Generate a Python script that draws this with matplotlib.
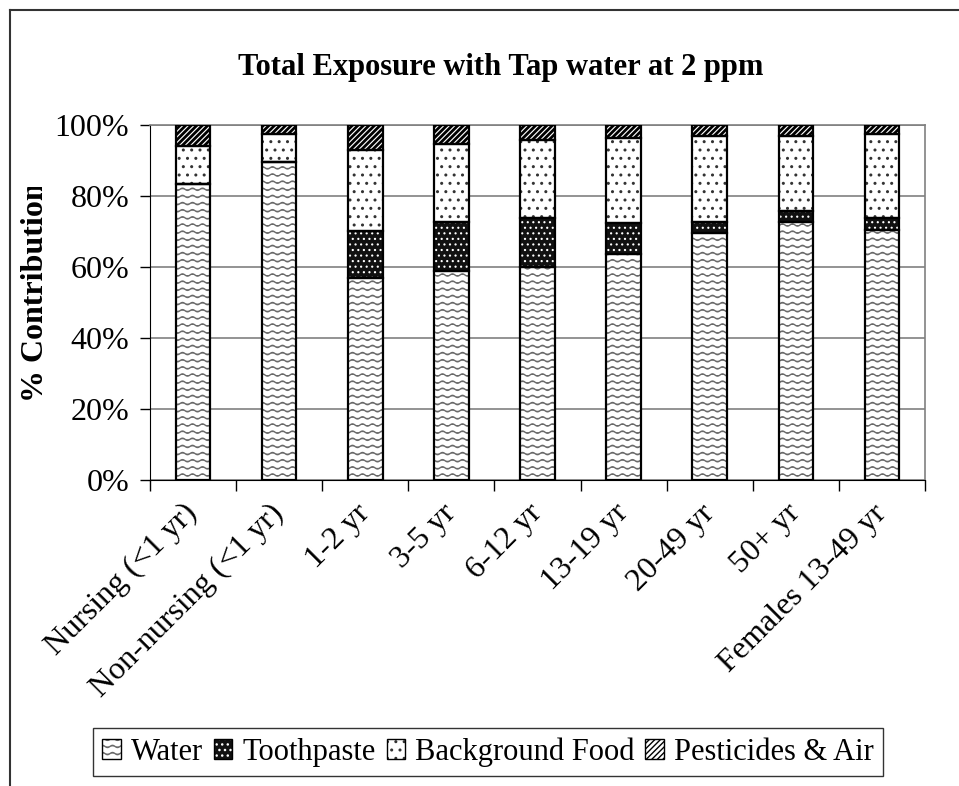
import warnings
import numpy as np
import matplotlib
matplotlib.use("Agg")
import matplotlib.pyplot as plt
import matplotlib.hatch as mhatch
from matplotlib.patches import Patch
from matplotlib.lines import Line2D
from matplotlib.path import Path
from matplotlib.transforms import Bbox

warnings.filterwarnings("ignore")


# волнистая штриховка ('~'), как узор "волна" в Excel
class WaveHatch(mhatch.HatchPatternBase):
    def __init__(self, hatch, density):
        self.num_rows = int(hatch.count('~') * density * 0.8)
        self.num_pts = 201
        self.num_vertices = self.num_rows * self.num_pts

    def set_vertices_and_codes(self, vertices, codes):
        xs = np.linspace(0.0, 1.0, self.num_pts)
        for i in range(self.num_rows):
            y0 = (i + 0.5) / self.num_rows
            sl = slice(i * self.num_pts, (i + 1) * self.num_pts)
            vertices[sl, 0] = xs
            vertices[sl, 1] = y0 + 0.011 * np.sin(xs * 2 * np.pi * 10)
            codes[sl] = Path.LINETO
            codes[i * self.num_pts] = Path.MOVETO


mhatch._hatch_types.append(WaveHatch)

plt.rcParams['font.family'] = ['Liberation Serif', 'DejaVu Serif']
plt.rcParams['hatch.linewidth'] = 1.0

# Данные (в процентах)
groups = ["Nursing (<1 yr)", "Non-nursing (<1 yr)", "1-2 yr", "3-5 yr", "6-12 yr",
          "13-19 yr", "20-49 yr", "50+ yr", "Females 13-49 yr"]
water = [83.5, 89.7, 56.8, 59.0, 60.1, 63.7, 69.7, 72.6, 70.4]
toothpaste = [0.0, 0.0, 13.3, 13.8, 13.8, 8.6, 3.1, 3.2, 3.5]
background = [10.6, 7.8, 22.9, 21.8, 21.9, 23.9, 24.1, 21.2, 23.5]
pesticides = [5.9, 2.5, 7.0, 5.4, 4.2, 3.8, 3.1, 3.0, 2.6]

# имя, данные, заливка, цвет штриховки, штриховка, толщина штриховки
series = [("Water", water, "white", "#6a6a6a", "~~~", 1.0),
          ("Toothpaste", toothpaste, "#111111", "white", "...", 0.8),
          ("Background Food", background, "white", "#333333", "..", 1.0),
          ("Pesticides & Air", pesticides, "white", "black", "//////", 2.0)]

fig = plt.figure(figsize=(9.59, 7.86), dpi=100)
ax = fig.add_axes([150 / 959, 1 - 480 / 786, 775 / 959, 355 / 786])

x = np.arange(len(groups))
bottom = np.zeros(len(groups))
handles = []
for name, vals, face, hcol, hatch, hlw in series:
    vals = np.array(vals)
    with plt.rc_context({'hatch.linewidth': hlw}):
        bars = ax.bar(x, vals, 0.4, bottom=bottom, color=face, edgecolor=hcol,
                      hatch=hatch, linewidth=0, zorder=2)
        h = Patch(facecolor=face, edgecolor=hcol, hatch=hatch, linewidth=0)
    for p in list(bars) + [h]:
        if hasattr(p, "set_hatch_linewidth"):
            p.set_hatch_linewidth(hlw)
    ax.bar(x, vals, 0.4, bottom=bottom, fill=False, edgecolor="black",
           linewidth=1.6, zorder=3)
    handles.append((h, Patch(fill=False, edgecolor="black", linewidth=1.0)))
    bottom += vals

ax.set_xlim(-0.5, len(groups) - 0.5)
ax.set_ylim(0, 100)
ax.set_yticks([0, 20, 40, 60, 80, 100])
ax.set_yticklabels(["0%", "20%", "40%", "60%", "80%", "100%"], fontsize=23)
ax.set_xticks(x)
ax.set_xticklabels(groups, fontsize=23, rotation=45, ha="right", va="center",
                   rotation_mode="anchor")
ax.set_xticks(np.arange(len(groups) + 1) - 0.5, minor=True)
ax.tick_params(axis="x", which="major", length=0, pad=21)
ax.tick_params(axis="x", which="minor", length=8, width=1, direction="out")
ax.tick_params(axis="y", length=7, width=1, direction="out", pad=8)

ax.grid(axis="y", color="#808080", linewidth=1.2, zorder=0)
ax.set_axisbelow(True)
ax.spines["top"].set_color("#808080")
ax.spines["right"].set_color("#808080")
ax.spines["top"].set_linewidth(1.2)
ax.spines["right"].set_linewidth(1.2)

# подпись оси Y в оригинале обрезана сверху
ylab = ax.set_ylabel("% Contribution", fontsize=23, fontweight="bold")
ax.yaxis.set_label_coords((50 - 150) / 775, (480 - 292) / 355)
ylab.set_clip_box(Bbox.from_extents(0, 0, 959, 786 - 187))
ylab.set_clip_on(True)

fig.text(501 / 959, 1 - 75 / 786, "Total Exposure with Tap water at 2 ppm",
         ha="center", va="baseline", fontsize=22, fontweight="bold")

leg = fig.legend(handles=handles,
                 labels=[s[0] for s in series], loc="center", ncol=4,
                 bbox_to_anchor=(488 / 959, 1 - 752 / 786), fontsize=22,
                 frameon=True, fancybox=False, edgecolor="black",
                 handlelength=0.6, handleheight=0.6, handletextpad=0.33,
                 columnspacing=0.36, borderpad=0.3, borderaxespad=0)
leg.get_frame().set_linewidth(1.0)

# рамка диаграммы
fig.add_artist(Line2D([10 / 959, 10 / 959], [0, 1 - 10 / 786], color="#333333", linewidth=1.5))
fig.add_artist(Line2D([10 / 959, 1], [1 - 10 / 786, 1 - 10 / 786], color="#333333", linewidth=1.5))

fig.savefig("out.png", dpi=100)
